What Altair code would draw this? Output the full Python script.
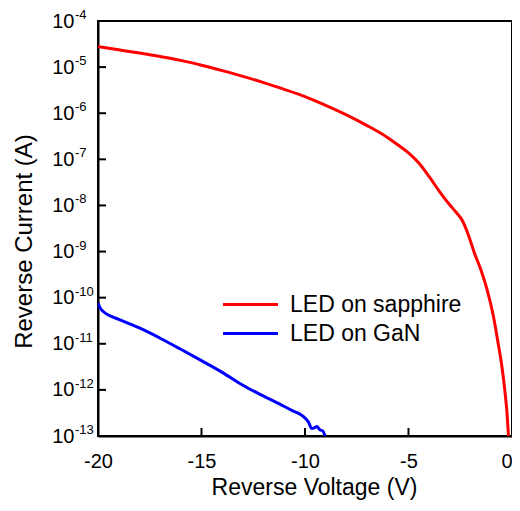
import altair as alt
import pandas as pd

# ---- data ----
sapphire_v = [-20, -19, -18, -17, -16, -15, -14, -13, -12, -11, -10, -9, -8, -7, -6, -5.5, -5,
              -4.5, -4, -3.5, -3, -2.7, -2.4, -2.1, -1.8, -1.5, -1.2, -0.9, -0.67, -0.5,
              -0.35, -0.25, -0.17]
sapphire_i = [2.77e-5, 2.37e-5, 2.02e-5, 1.70e-5, 1.40e-5, 1.10e-5, 8.4e-6, 6.3e-6, 4.6e-6,
              3.3e-6, 2.3e-6, 1.48e-6, 9.2e-7, 5.4e-7, 2.95e-7, 2.04e-7, 1.38e-7,
              8.3e-8, 4.2e-8, 2.0e-8, 1.02e-8, 7.1e-9, 4.7e-9, 2.24e-9, 8.9e-10, 4.0e-10,
              1.48e-10, 4.0e-11, 1.02e-11, 3.5e-12, 1.0e-12, 3.5e-13, 1.0e-13]

gan_v = [-20, -19.9, -19.75, -19.5, -19.0, -18.5, -18, -17, -16, -15, -14, -13, -12.24,
         -11.28, -10.64, -10.15, -9.83, -9.67, -9.55, -9.43, -9.27, -9.15, -9.03]
gan_i = [7.6e-11, 6.0e-11, 5.0e-11, 4.2e-11, 3.4e-11, 2.75e-11, 2.2e-11, 1.32e-11, 7.6e-12,
         4.3e-12, 2.4e-12, 1.26e-12, 8.3e-13, 5.1e-13, 3.6e-13, 2.8e-13, 2.0e-13, 1.45e-13,
         1.5e-13, 1.6e-13, 1.35e-13, 1.3e-13, 1.0e-13]

series_names = ["LED on sapphire", "LED on GaN"]
series_colors = ["#ff0000", "#0000ff"]

x_ticks = [-20, -15, -10, -5, 0]
y_ticks = [1e-4, 1e-5, 1e-6, 1e-7, 1e-8, 1e-9, 1e-10, 1e-11, 1e-12, 1e-13]
y_exponents = ["-4", "-5", "-6", "-7", "-8", "-9", "-10", "-11", "-12", "-13"]

FONT = "Liberation Sans"
W, H = 414, 415

df = pd.concat([
    pd.DataFrame({"V": sapphire_v, "I": sapphire_i, "series": series_names[0]}),
    pd.DataFrame({"V": gan_v, "I": gan_i, "series": series_names[1]}),
])

xscale = alt.Scale(domain=[-20, 0], nice=False, zero=False)
yscale = alt.Scale(type="log", domain=[1e-13, 1e-4], nice=False)

lines = alt.Chart(df).mark_line(strokeWidth=3, clip=True, interpolate="monotone").encode(
    x=alt.X("V:Q", scale=xscale,
            axis=alt.Axis(values=x_ticks, title="Reverse Voltage (V)",
                          labelExpr="'' + datum.value", labelPadding=15,
                          labelFlush=False,
                          labelAlign={"condition": {"test": "datum.value == 0", "value": "right"},
                                      "value": "center"},
                          titleFontSize=23, titleBaseline="alphabetic",
                          titleX=216, titleY=58)),
    y=alt.Y("I:Q", scale=yscale,
            axis=alt.Axis(values=y_ticks, title="Reverse Current (A)",
                          labelExpr="'10'", labelPadding=24,
                          titleFontSize=24, titleBaseline="alphabetic",
                          titleX=-67, titleY=220)),
    color=alt.Color("series:N",
                    scale=alt.Scale(domain=series_names, range=series_colors),
                    legend=alt.Legend(title=None, orient="none", legendX=141, legendY=272,
                                      symbolType="M-5,0L5,0", symbolSize=121,
                                      symbolStrokeWidth=3, labelFontSize=23,
                                      labelOffset=28, rowPadding=5, padding=0,
                                      labelLimit=400,
                                      labelFont=FONT, labelColor="black")),
    order=alt.Order("V:Q"),
)

exp_df = pd.DataFrame({"I": y_ticks, "e": y_exponents})
exponents = alt.Chart(exp_df).mark_text(
    align="left", baseline="middle", dy=-6, fontSize=13, font=FONT, color="black"
).encode(y=alt.Y("I:Q", scale=yscale), x=alt.value(-23), text="e:N")

xt = alt.Chart(pd.DataFrame({"V": x_ticks})).mark_rule(color="black", strokeWidth=2).encode(
    x=alt.X("V:Q", scale=xscale), y=alt.value(H), y2=alt.value(H - 8))
yt = alt.Chart(pd.DataFrame({"I": y_ticks})).mark_rule(color="black", strokeWidth=2).encode(
    y=alt.Y("I:Q", scale=yscale), x=alt.value(0), x2=alt.value(8))

chart = alt.layer(lines, xt, yt, exponents).properties(
    width=W, height=H, autosize="none",
    padding={"left": 90, "top": 13, "right": 0, "bottom": 64},
).configure_view(stroke="black", strokeWidth=2).configure_axis(
    labelFont=FONT, titleFont=FONT, labelFontSize=20,
    titleFontWeight="normal", labelColor="black", titleColor="black",
    domainColor="black", domainWidth=2, ticks=False, tickSize=0, grid=False,
)

chart.save("out.html", embed_options={"renderer": "svg", "actions": False})
